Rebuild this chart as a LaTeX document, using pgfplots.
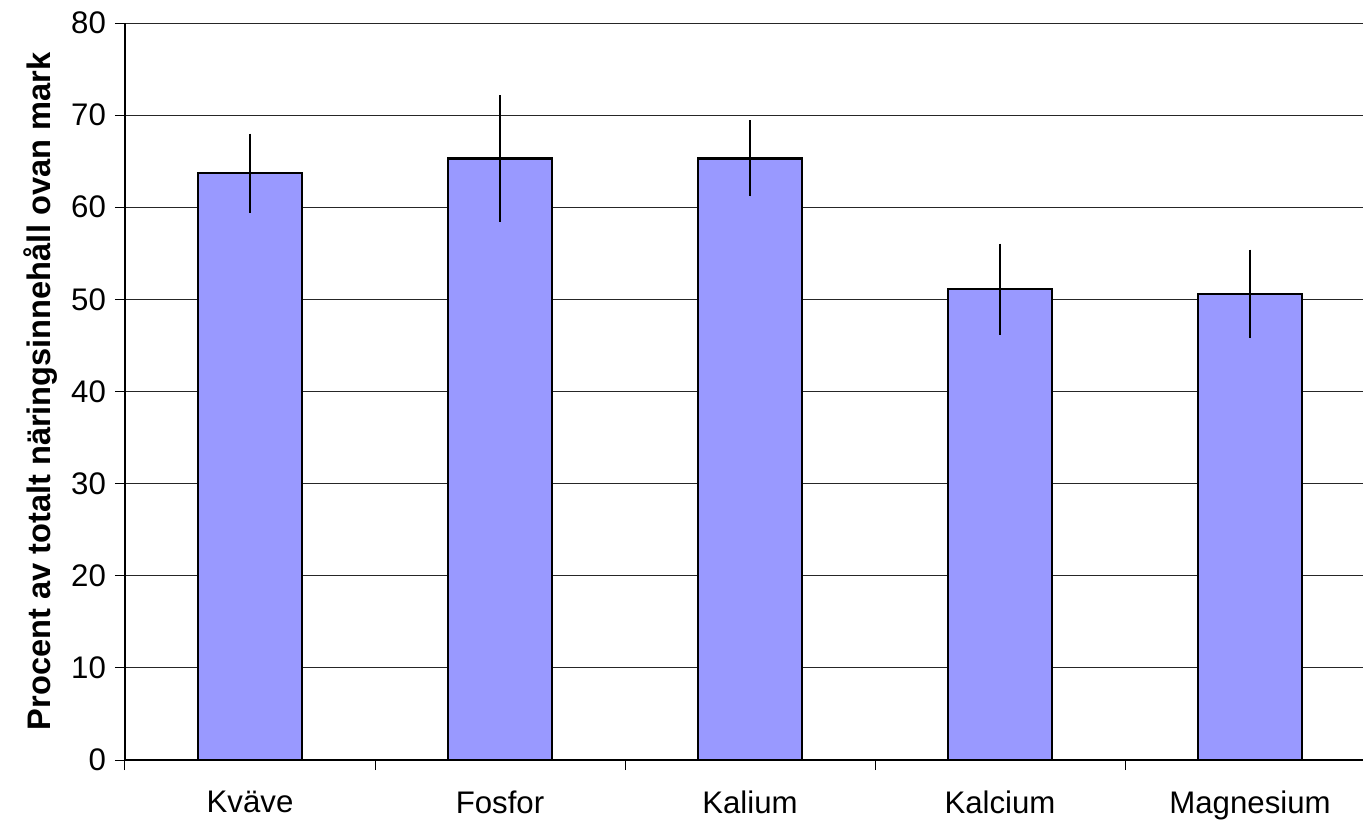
\documentclass[border=0pt]{standalone}
\usepackage{fontspec}
\setmainfont{Liberation Sans}
\usepackage{pgfplots}
\pgfplotsset{compat=1.18}
\usepackage{pgfplotstable}
\definecolor{barblue}{RGB}{153,153,255}
\pgfplotstableread{
x y err
0 63.7 4.3
1 65.3 6.85
2 65.3 4.13
3 51.1 4.94
4 50.6 4.8
}\datatable
\begin{document}
\begin{tikzpicture}[x=1pt,y=1pt]
\begin{axis}[
  at={(0,0)}, anchor=south west,
  scale only axis,
  width=619pt, height=368.5pt,
  xmin=-0.5, xmax=4.452,
  ymin=0, ymax=80,
  ytick={0,10,...,80},
  xtick={0,1,2,3,4},
  xticklabels={Kväve,Fosfor,Kalium,Kalcium,Magnesium},
  minor xtick={-0.5,0.5,1.5,2.5,3.5},
  major x tick style={draw=none},
  minor x tick style={black, line width=0.5pt},
  axis lines*=left,
  axis line style={black, line width=0.6pt, -},
  tick align=outside,
  major tick length=5pt,
  minor tick length=5pt,
  ymajorgrids,
  major grid style={black!85, line width=0.5pt},
  y tick style={black, line width=0.5pt},
  ticklabel style={font=\fontsize{15.6}{18}\selectfont},
  /pgf/number format/assume math mode=true,
  yticklabel style={xshift=-1pt},
  xticklabel style={yshift=-7pt},
  ylabel={Procent av totalt näringsinnehåll ovan mark},
  ylabel style={font=\bfseries\fontsize{16.3}{19}\selectfont, yshift=0pt},
  clip=false,
]
\addplot[ybar, bar width=0.416, fill=barblue, draw=black, line width=1.1pt,
  error bars/.cd, y dir=both, y explicit, error mark=none,
  error bar style={black, line width=1.3pt}]
  table[x=x, y=y, y error=err] {\datatable};
\end{axis}
\pgfresetboundingbox
\path[use as bounding box] (-62.5pt,-32pt) rectangle (619pt,380pt);
\end{tikzpicture}
\end{document}
